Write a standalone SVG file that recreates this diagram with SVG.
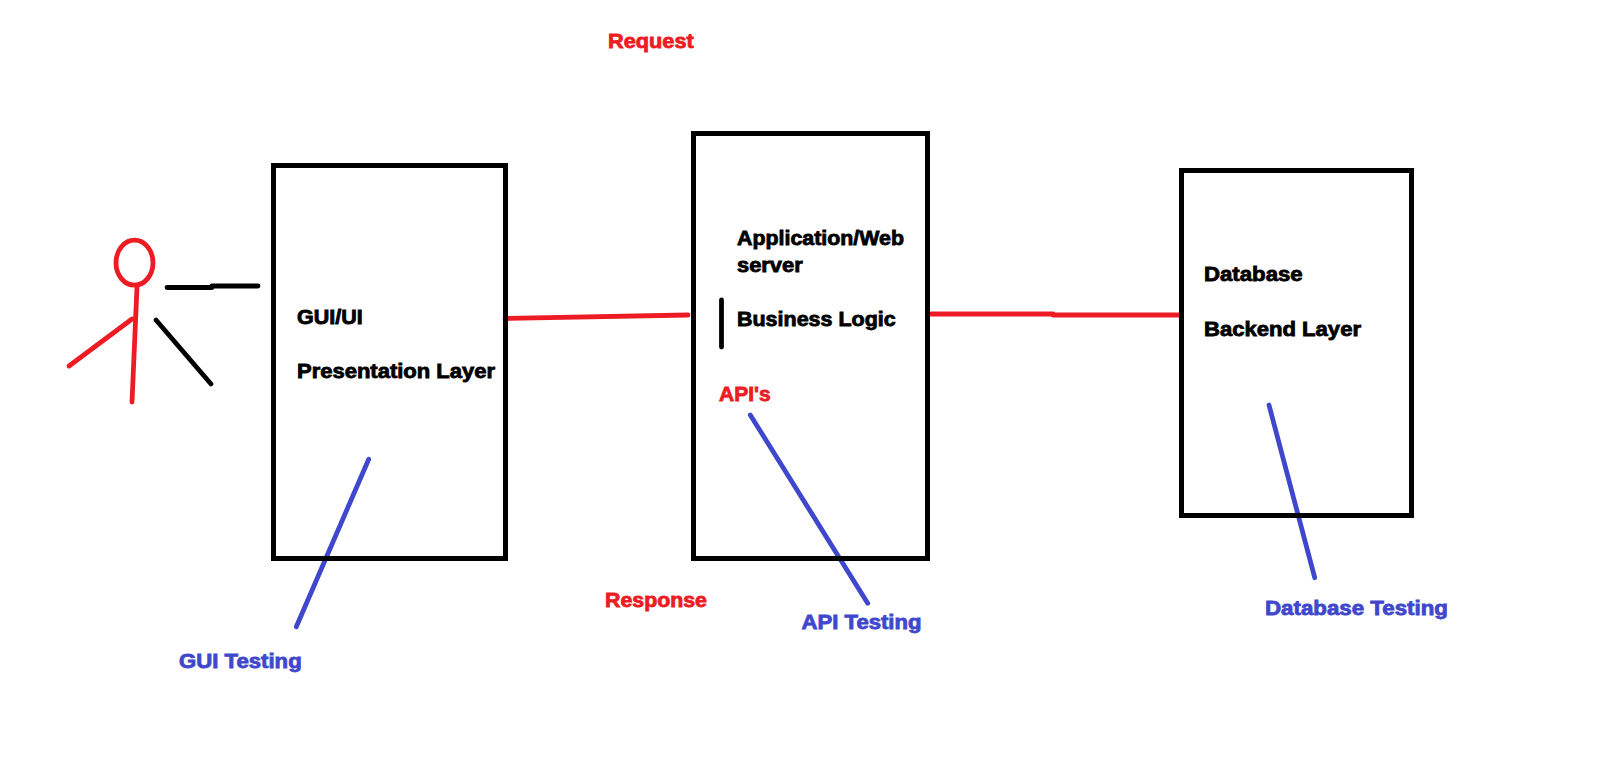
<svg xmlns="http://www.w3.org/2000/svg" width="1618" height="771" viewBox="0 0 1618 771">
<style>
.box{fill:none;stroke:#000;stroke-width:5}
.k,.r,.b{fill:none;stroke-width:4.800;stroke-linecap:round;stroke-linejoin:round}
.k{stroke:#000}
.r{stroke:#ed1c24}
.b{stroke:#3f48cc}
text{font-family:"Liberation Sans",Arial,sans-serif;font-weight:700;font-size:19.500px;stroke-width:.8px}
.tk{fill:#000;stroke:#000}.tr{fill:#ed1c24;stroke:#ed1c24}.tb{fill:#3f48cc;stroke:#3f48cc}
</style>
<rect width="1618" height="771" fill="#fff"/>
<g id="connectors">
<path class="k" d="M167 287.500H212L212 286H258"/>
<path class="r" d="M505 318.500L688 315"/>
<path class="r" d="M929 314H1053V315H1179"/>
<path class="k" d="M721.500 300V347"/>
<path class="b" d="M368.700 459.300L296.300 626.700"/>
<path class="b" d="M750.300 415L867.700 603.300"/>
<path class="b" d="M1269 405L1314.700 577.700"/>
</g>
<g id="actor">
<ellipse class="r" cx="134.500" cy="262.700" rx="18.500" ry="22.500"/>
<path class="r" d="M137 287L132 402"/>
<path class="r" d="M132 319L69 366"/>
<path class="k" d="M156 320L211 384"/>
</g>
<g id="gui"><rect class="box" x="273.500" y="165.500" width="232" height="393"/>
<text class="tk" x="297" y="324" textLength="65.700" lengthAdjust="spacingAndGlyphs">GUI/UI</text><text class="tk" x="297" y="377.500" textLength="198" lengthAdjust="spacingAndGlyphs">Presentation Layer</text></g>
<g id="app"><rect class="box" x="693.500" y="133.500" width="234" height="425"/>
<text class="tk" x="737" y="245" textLength="167" lengthAdjust="spacingAndGlyphs">Application/Web</text><text class="tk" x="737" y="271.500" textLength="65.700" lengthAdjust="spacingAndGlyphs">server</text><text class="tk" x="737" y="325.500" textLength="158.700" lengthAdjust="spacingAndGlyphs">Business Logic</text><text class="tr" x="719" y="401" textLength="51.700" lengthAdjust="spacingAndGlyphs">API's</text></g>
<g id="db"><rect class="box" x="1181.500" y="170.500" width="230" height="345"/>
<text class="tk" x="1204" y="280.500" textLength="98.700" lengthAdjust="spacingAndGlyphs">Database</text><text class="tk" x="1204" y="335.500" textLength="157" lengthAdjust="spacingAndGlyphs">Backend Layer</text></g>
<g id="labels">
<text class="tr" x="608" y="47.500" textLength="85.700" lengthAdjust="spacingAndGlyphs">Request</text>
<text class="tr" x="605" y="606.500" textLength="102" lengthAdjust="spacingAndGlyphs">Response</text>
<text class="tb" x="179" y="667.500" textLength="122.700" lengthAdjust="spacingAndGlyphs">GUI Testing</text>
<text class="tb" x="801.500" y="628.500" textLength="120" lengthAdjust="spacingAndGlyphs">API Testing</text>
<text class="tb" x="1265" y="615" textLength="183" lengthAdjust="spacingAndGlyphs">Database Testing</text>
</g>
</svg>
